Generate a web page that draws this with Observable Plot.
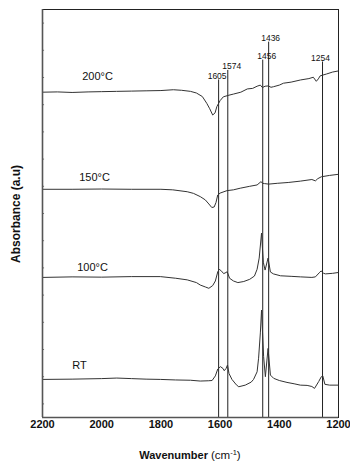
<!DOCTYPE html>
<html>
<head>
<meta charset="utf-8">
<script src="https://cdn.jsdelivr.net/npm/d3@7"></script>
<script src="https://cdn.jsdelivr.net/npm/@observablehq/plot@0.6"></script>
<style>
  html, body { margin: 0; padding: 0; background: #fff; }
  #chart { width: 350px; height: 462px; }
</style>
</head>
<body>
<div id="chart"></div>
<script>
// ---- Data ----
const seriesNames = ["200°C", "150°C", "100°C", "RT"];

// [wavenumber (cm-1), absorbance (a.u., stacked)]
const spectrum200 = [
  [2200,11.96],[2150,11.97],[2100,11.95],[2046,11.97],[2000,11.98],[1950,11.99],[1900,12.00],
  [1850,12.01],[1800,12.02],[1758,12.05],[1730,12.03],[1700,11.99],[1680,11.93],[1660,11.80],
  [1645,11.55],[1635,11.35],[1625,11.12],[1617,11.20],[1611,11.43],[1600,11.65],[1589,11.79],
  [1570,11.85],[1555,11.89],[1530,11.96],[1508,12.08],[1490,12.10],[1475,12.18],[1464,12.22],
  [1457,12.13],[1448,12.18],[1437,12.19],[1428,12.14],[1420,12.16],[1400,12.22],[1386,12.29],
  [1360,12.33],[1328,12.41],[1300,12.46],[1285,12.51],[1275,12.36],[1268,12.45],[1262,12.56],
  [1240,12.63],[1220,12.70],[1201,12.74]
];
const spectrum150 = [
  [2200,8.39],[2100,8.39],[2000,8.40],[1900,8.39],[1800,8.39],[1760,8.37],[1711,8.30],[1690,8.24],
  [1667,8.12],[1650,8.00],[1638,7.85],[1628,7.72],[1620,7.74],[1614,7.90],[1608,8.18],[1600,8.25],
  [1577,8.34],[1555,8.37],[1532,8.43],[1500,8.50],[1475,8.55],[1462,8.67],[1456,8.61],[1450,8.60],
  [1436,8.58],[1407,8.61],[1370,8.64],[1329,8.69],[1290,8.75],[1278,8.70],[1270,8.78],[1258,8.85],
  [1230,8.90],[1201,8.94]
];
const spectrum100 = [
  [2200,5.15],[2100,5.17],[2000,5.16],[1900,5.18],[1802,5.18],[1750,5.12],[1711,5.06],[1680,4.96],
  [1667,4.87],[1650,4.80],[1638,4.75],[1625,4.85],[1616,5.02],[1608,5.35],[1603,5.45],[1595,5.38],
  [1588,5.29],[1580,5.33],[1576,5.36],[1568,5.12],[1555,5.02],[1540,4.96],[1520,5.00],[1500,5.08],
  [1484,5.20],[1475,5.45],[1468,5.86],[1460,6.78],[1454,5.71],[1448,5.42],[1438,5.86],[1430,5.35],
  [1420,5.28],[1396,5.21],[1360,5.19],[1328,5.17],[1290,5.15],[1278,5.17],[1265,5.32],[1259,5.39],
  [1250,5.30],[1244,5.28],[1220,5.30],[1201,5.33]
];
const spectrumRT = [
  [2200,1.40],[2100,1.41],[2000,1.43],[1949,1.45],[1900,1.43],[1850,1.41],[1802,1.40],[1750,1.38],
  [1700,1.37],[1667,1.34],[1640,1.35],[1627,1.36],[1616,1.53],[1608,1.78],[1599,1.87],[1590,1.80],
  [1586,1.72],[1580,1.80],[1575,1.93],[1570,1.62],[1560,1.40],[1545,1.20],[1537,1.13],[1515,1.19],
  [1495,1.30],[1487,1.40],[1475,1.68],[1470,2.18],[1464,3.11],[1460,3.95],[1453,2.24],[1447,1.50],
  [1438,2.54],[1430,1.56],[1419,1.44],[1400,1.36],[1374,1.29],[1350,1.24],[1329,1.19],[1306,1.18],
  [1290,1.14],[1281,1.07],[1267,1.32],[1258,1.50],[1253,1.53],[1246,1.22],[1230,1.19],[1201,1.19]
];

// label anchor for each trace: [wavenumber, level]
const seriesLabelAt = [[2014,12.55],[2024,8.83],[2031,5.52],[2075,1.93]];

// marked bands: wavenumber and height (a.u.) where each marker line ends
const peakWavenumbers = [1605, 1574, 1456, 1436, 1254];
const peakLineTops    = [12.41, 12.76, 13.14, 13.80, 13.07];

const xTicks = [2200, 2000, 1800, 1600, 1400, 1200];
const yMinorTicks = [0.5,1.5,2.5,3.5,4.5,5.5,6.5,7.5,8.5,9.5,10.5,11.5,12.5,13.5,14.5];
const xDomain = [2200, 1200];
const yDomain = [0, 15];

// horizontal nudge (px) of each band label, as in the reference
const labelNudge = {1605: -1.5, 1574: 4, 1456: 4, 1436: 2, 1254: -2};

// ---- Build tables ----
const spectra = [spectrum200, spectrum150, spectrum100, spectrumRT];
const rows = spectra.flatMap((s, i) => s.map(([wn, a]) => ({series: seriesNames[i], wn, a})));
const labels = seriesNames.map((name, i) => ({name, wn: seriesLabelAt[i][0], a: seriesLabelAt[i][1]}));
const peaks = peakWavenumbers.map((wn, i) => ({wn, top: peakLineTops[i]}));

const font = "'Liberation Sans', Arial, Helvetica, sans-serif";

const svg = Plot.plot({
  width: 350,
  height: 462,
  marginLeft: 42,
  marginRight: 12,
  marginTop: 9,
  marginBottom: 45,
  style: {fontFamily: font, background: "#fff", color: "#111"},
  x: {domain: xDomain, ticks: xTicks, tickFormat: d => String(d), tickSize: 0, tickPadding: 3, label: null},
  y: {domain: yDomain, axis: null},
  marks: [
    Plot.frame({stroke: "#222", strokeWidth: 1}),
    Plot.ruleY(yMinorTicks, {x1: xDomain[0], x2: xDomain[0] - 7, stroke: "#777", strokeWidth: 1}),
    Plot.ruleX(peaks, {x: "wn", y1: yDomain[0], y2: "top", stroke: "#222", strokeWidth: 1}),
    Plot.line(rows, {x: "wn", y: "a", z: "series", stroke: "#333", strokeWidth: 1}),
    ...peaks.map(p => Plot.text([p], {x: "wn", y: "top", text: d => String(d.wn), lineAnchor: "bottom", dy: -1, dx: labelNudge[p.wn], fontSize: 8.5, fill: "#111"})),
    Plot.text(labels, {x: "wn", y: "a", text: "name", fontSize: 11, fill: "#111"}),
    Plot.ruleX([xDomain[0]], {stroke: "#555", strokeWidth: 1.6}),
    Plot.ruleY([yDomain[0]], {stroke: "#555", strokeWidth: 1.6}),
    Plot.axisX({ticks: xTicks, tickFormat: d => String(d), tickSize: 0, tickPadding: 3, fontSize: 11, fontWeight: "bold", label: null})
  ]
});

const s = d3.select(svg);
s.selectAll("g[aria-label='x-axis tick label'] text").attr("font-weight", "bold");

// Axis titles
const xt = s.append("text")
  .attr("x", 190).attr("y", 459)
  .attr("text-anchor", "middle")
  .attr("font-family", font)
  .attr("fill", "#111");
xt.append("tspan").attr("font-weight", "bold").attr("font-size", 11).text("Wavenumber ");
xt.append("tspan").attr("font-size", 11.5).text("(cm");
xt.append("tspan").attr("font-size", 7.5).attr("dy", -4).text("-1");
xt.append("tspan").attr("font-size", 11.5).attr("dy", 4).text(")");

s.append("text")
  .attr("transform", "translate(20,214) rotate(-90)")
  .attr("text-anchor", "middle")
  .attr("font-family", font)
  .attr("font-weight", "bold")
  .attr("font-size", 12)
  .attr("fill", "#111")
  .text("Absorbance (a.u)");

document.getElementById("chart").appendChild(svg);
</script>
</body>
</html>
